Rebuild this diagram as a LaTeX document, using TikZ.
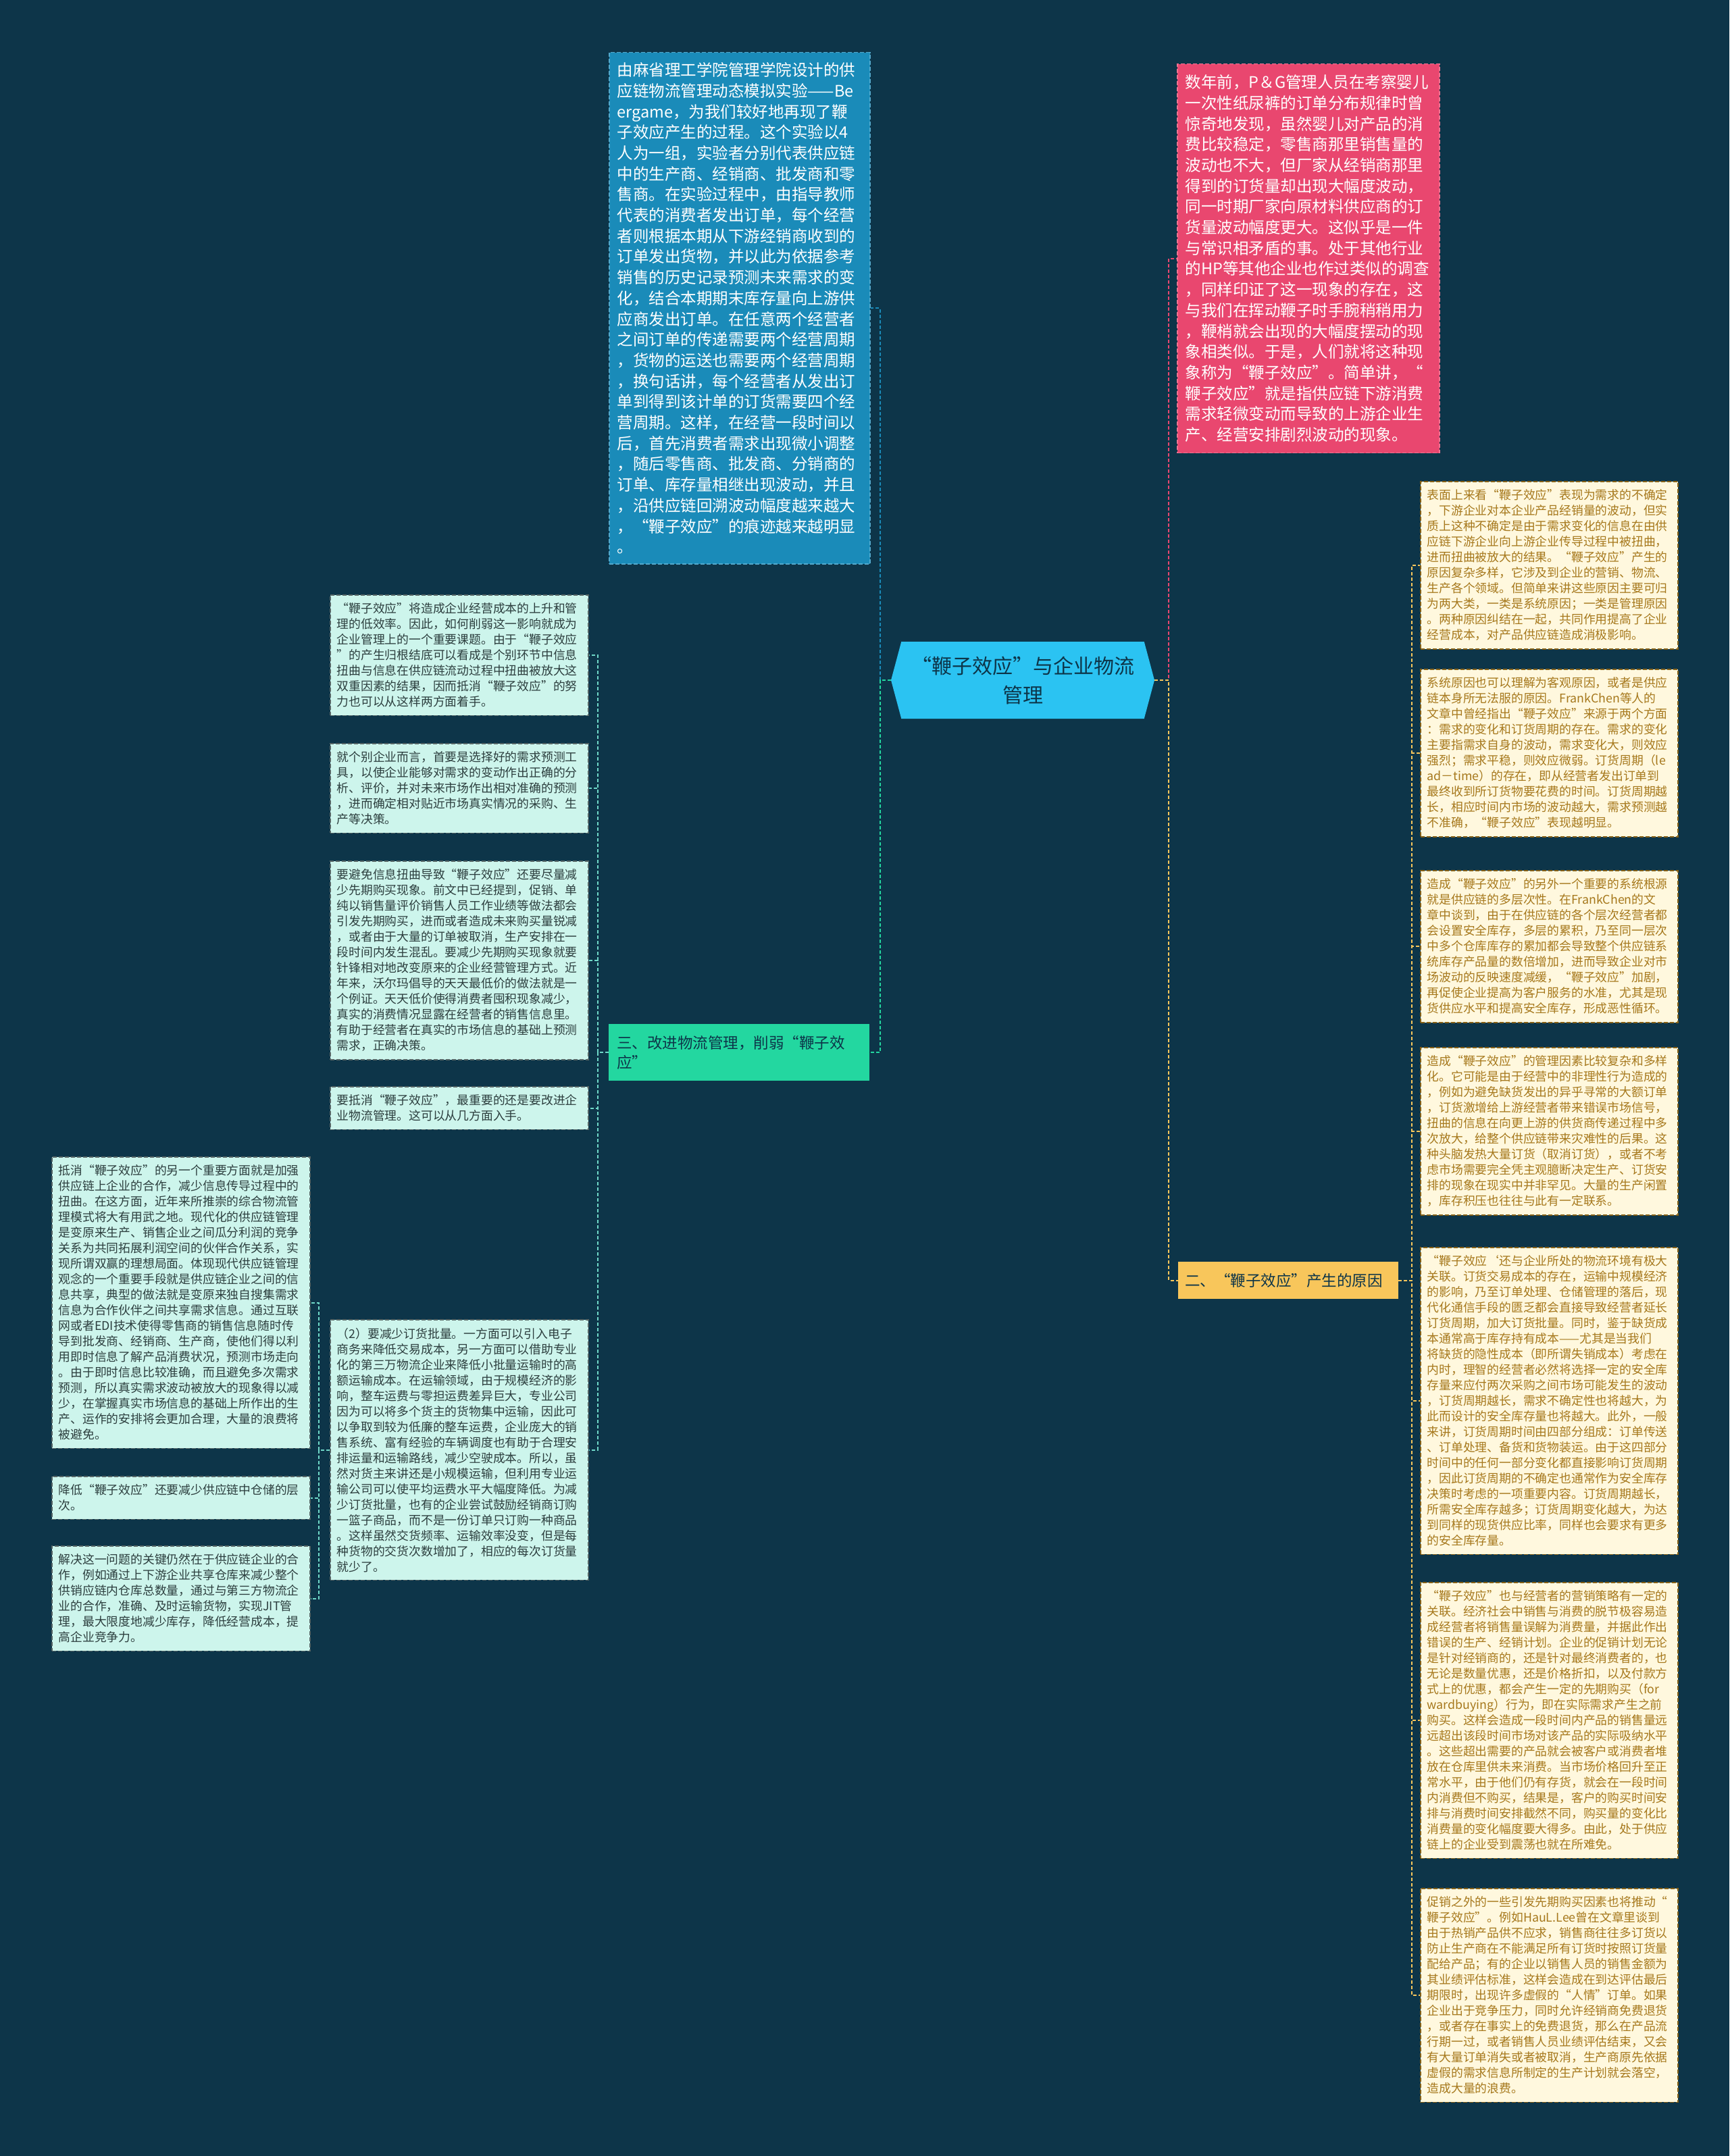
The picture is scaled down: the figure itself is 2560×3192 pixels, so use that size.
\documentclass[tikz,border=0pt]{standalone}
\usepackage{fontspec}
\setmainfont{Noto Sans CJK SC}
\usetikzlibrary{positioning,shapes.symbols}
\definecolor{bg}{HTML}{0D3549}
\definecolor{hubc}{HTML}{2BC3F2}
\definecolor{bluec}{HTML}{1A8BB9}
\definecolor{redc}{HTML}{E9476F}
\definecolor{greenc}{HTML}{23D7A0}
\definecolor{goldc}{HTML}{F8C65B}
\definecolor{cream}{HTML}{FFF8DE}
\definecolor{goldtxt}{HTML}{A6781C}
\definecolor{mint}{HTML}{CDF5EC}
\definecolor{minttxt}{HTML}{2C3E3E}
\definecolor{mintline}{HTML}{6FD8C8}

\begin{document}
\begin{tikzpicture}[
  x=1pt, y=-1pt,
  hub/.style={signal, signal to=east and west, signal pointer angle=150, fill=hubc, text=bg, align=center, font=\fontsize{30}{43}\selectfont, minimum width=390pt, minimum height=114pt, inner sep=0pt},
  topic/.style={fill=#1, text=bg, align=left, font=\fontsize{22.5}{29}\selectfont, inner xsep=12pt, inner ysep=17pt, anchor=north west},
  story/.style={fill=#1, draw=#1!75!white, line width=1.5pt, dash pattern=on 6pt off 3pt, text=white, align=left, font=\fontsize{23.5}{30.7}\selectfont, inner xsep=12pt, inner ysep=15pt, anchor=north west},
  reason/.style={fill=cream, draw=goldtxt!80!black, line width=1.5pt, dash pattern=on 6pt off 3pt, text=goldtxt, align=left, text width=361pt, font=\fontsize{17.8}{23}\selectfont, inner xsep=10pt, inner ysep=12pt, anchor=north west},
  remedy/.style={fill=mint, draw=minttxt!80!white, line width=1.5pt, dash pattern=on 6pt off 3pt, text=minttxt, align=left, text width=362pt, font=\fontsize{17.8}{23}\selectfont, inner xsep=10pt, inner ysep=12pt, anchor=north west},
  link/.style={draw=#1, line width=2pt, dash pattern=on 5pt off 3pt},
]
\fill[bg] (0,0) rectangle (2560,3192);
\useasboundingbox (0,0) rectangle (2560,3192);

\node[hub] (root) at (1514,1007) {“鞭子效应”与企业物流\\管理};

\node[story=bluec, text width=362pt] (lab) at (901,77) {由麻省理工学院管理学院设计的供\\应链物流管理动态模拟实验——Be\\ergame，为我们较好地再现了鞭\\子效应产生的过程。这个实验以4\\人为一组，实验者分别代表供应链\\中的生产商、经销商、批发商和零\\售商。在实验过程中，由指导教师\\代表的消费者发出订单，每个经营\\者则根据本期从下游经销商收到的\\订单发出货物，并以此为依据参考\\销售的历史记录预测未来需求的变\\化，结合本期期末库存量向上游供\\应商发出订单。在任意两个经营者\\之间订单的传递需要两个经营周期\\，货物的运送也需要两个经营周期\\，换句话讲，每个经营者从发出订\\单到得到该计单的订货需要四个经\\营周期。这样，在经营一段时间以\\后，首先消费者需求出现微小调整\\，随后零售商、批发商、分销商的\\订单、库存量相继出现波动，并且\\，沿供应链回溯波动幅度越来越大\\，“鞭子效应”的痕迹越来越明显\\。};

\node[story=redc, text width=364pt, inner ysep=16pt] (pg) at (1742,94) {数年前，P＆G管理人员在考察婴儿\\一次性纸尿裤的订单分布规律时曾\\惊奇地发现，虽然婴儿对产品的消\\费比较稳定，零售商那里销售量的\\波动也不大，但厂家从经销商那里\\得到的订货量却出现大幅度波动，\\同一时期厂家向原材料供应商的订\\货量波动幅度更大。这似乎是一件\\与常识相矛盾的事。处于其他行业\\的HP等其他企业也作过类似的调查\\，同样印证了这一现象的存在，这\\与我们在挥动鞭子时手腕稍稍用力\\，鞭梢就会出现的大幅度摆动的现\\象相类似。于是，人们就将这种现\\象称为“鞭子效应”。简单讲，“\\鞭子效应”就是指供应链下游消费\\需求轻微变动而导致的上游企业生\\产、经营安排剧烈波动的现象。};

\node[topic=greenc, text width=362pt] (improve) at (901,1516) {三、改进物流管理，削弱“鞭子效\\应”};
\node[topic=goldc, text width=306pt, inner xsep=10pt] (cause) at (1744,1868) {二、“鞭子效应”产生的原因};

\node[reason] (r1) at (2102,712) {表面上来看“鞭子效应”表现为需求的不确定\\，下游企业对本企业产品经销量的波动，但实\\质上这种不确定是由于需求变化的信息在由供\\应链下游企业向上游企业传导过程中被扭曲，\\进而扭曲被放大的结果。“鞭子效应”产生的\\原因复杂多样，它涉及到企业的营销、物流、\\生产各个领域。但简单来讲这些原因主要可归\\为两大类，一类是系统原因；一类是管理原因\\。两种原因纠结在一起，共同作用提高了企业\\经营成本，对产品供应链造成消极影响。};
\node[reason] (r2) at (2102,990) {系统原因也可以理解为客观原因，或者是供应\\链本身所无法服的原因。FrankChen等人的\\文章中曾经指出“鞭子效应”来源于两个方面\\：需求的变化和订货周期的存在。需求的变化\\主要指需求自身的波动，需求变化大，则效应\\强烈；需求平稳，则效应微弱。订货周期（le\\ad－time）的存在，即从经营者发出订单到\\最终收到所订货物要花费的时间。订货周期越\\长，相应时间内市场的波动越大，需求预测越\\不准确，“鞭子效应”表现越明显。};
\node[reason] (r3) at (2102,1288) {造成“鞭子效应”的另外一个重要的系统根源\\就是供应链的多层次性。在FrankChen的文\\章中谈到，由于在供应链的各个层次经营者都\\会设置安全库存，多层的累积，乃至同一层次\\中多个仓库库存的累加都会导致整个供应链系\\统库存产品量的数倍增加，进而导致企业对市\\场波动的反映速度减缓，“鞭子效应”加剧，\\再促使企业提高为客户服务的水准，尤其是现\\货供应水平和提高安全库存，形成恶性循环。};
\node[reason] (r4) at (2102,1550) {造成“鞭子效应”的管理因素比较复杂和多样\\化。它可能是由于经营中的非理性行为造成的\\，例如为避免缺货发出的异乎寻常的大额订单\\，订货激增给上游经营者带来错误市场信号，\\扭曲的信息在向更上游的供货商传递过程中多\\次放大，给整个供应链带来灾难性的后果。这\\种头脑发热大量订货（取消订货），或者不考\\虑市场需要完全凭主观臆断决定生产、订货安\\排的现象在现实中并非罕见。大量的生产闲置\\，库存积压也往往与此有一定联系。};
\node[reason] (r5) at (2102,1846) {“鞭子效应‘还与企业所处的物流环境有极大\\关联。订货交易成本的存在，运输中规模经济\\的影响，乃至订单处理、仓储管理的落后，现\\代化通信手段的匮乏都会直接导致经营者延长\\订货周期，加大订货批量。同时，鉴于缺货成\\本通常高于库存持有成本——尤其是当我们\\将缺货的隐性成本（即所谓失销成本）考虑在\\内时，理智的经营者必然将选择一定的安全库\\存量来应付两次采购之间市场可能发生的波动\\，订货周期越长，需求不确定性也将越大，为\\此而设计的安全库存量也将越大。此外，一般\\来讲，订货周期时间由四部分组成：订单传送\\、订单处理、备货和货物装运。由于这四部分\\时间中的任何一部分变化都直接影响订货周期\\，因此订货周期的不确定也通常作为安全库存\\决策时考虑的一项重要内容。订货周期越长，\\所需安全库存越多；订货周期变化越大，为达\\到同样的现货供应比率，同样也会要求有更多\\的安全库存量。};
\node[reason] (r6) at (2102,2342) {“鞭子效应”也与经营者的营销策略有一定的\\关联。经济社会中销售与消费的脱节极容易造\\成经营者将销售量误解为消费量，并据此作出\\错误的生产、经销计划。企业的促销计划无论\\是针对经销商的，还是针对最终消费者的，也\\无论是数量优惠，还是价格折扣，以及付款方\\式上的优惠，都会产生一定的先期购买（for\\wardbuying）行为，即在实际需求产生之前\\购买。这样会造成一段时间内产品的销售量远\\远超出该段时间市场对该产品的实际吸纳水平\\。这些超出需要的产品就会被客户或消费者堆\\放在仓库里供未来消费。当市场价格回升至正\\常水平，由于他们仍有存货，就会在一段时间\\内消费但不购买，结果是，客户的购买时间安\\排与消费时间安排截然不同，购买量的变化比\\消费量的变化幅度要大得多。由此，处于供应\\链上的企业受到震荡也就在所难免。};
\node[reason] (r7) at (2102,2795) {促销之外的一些引发先期购买因素也将推动“\\鞭子效应”。例如HauL.Lee曾在文章里谈到\\由于热销产品供不应求，销售商往往多订货以\\防止生产商在不能满足所有订货时按照订货量\\配给产品；有的企业以销售人员的销售金额为\\其业绩评估标准，这样会造成在到达评估最后\\期限时，出现许多虚假的“人情”订单。如果\\企业出于竞争压力，同时允许经销商免费退货\\，或者存在事实上的免费退货，那么在产品流\\行期一过，或者销售人员业绩评估结束，又会\\有大量订单消失或者被取消，生产商原先依据\\虚假的需求信息所制定的生产计划就会落空，\\造成大量的浪费。};

\node[remedy] (m1) at (488,880) {“鞭子效应”将造成企业经营成本的上升和管\\理的低效率。因此，如何削弱这一影响就成为\\企业管理上的一个重要课题。由于“鞭子效应\\”的产生归根结底可以看成是个别环节中信息\\扭曲与信息在供应链流动过程中扭曲被放大这\\双重因素的结果，因而抵消“鞭子效应”的努\\力也可以从这样两方面着手。};
\node[remedy] (m2) at (488,1100) {就个别企业而言，首要是选择好的需求预测工\\具，以使企业能够对需求的变动作出正确的分\\析、评价，并对未来市场作出相对准确的预测\\，进而确定相对贴近市场真实情况的采购、生\\产等决策。};
\node[remedy] (m3) at (488,1274) {要避免信息扭曲导致“鞭子效应”还要尽量减\\少先期购买现象。前文中已经提到，促销、单\\纯以销售量评价销售人员工作业绩等做法都会\\引发先期购买，进而或者造成未来购买量锐减\\，或者由于大量的订单被取消，生产安排在一\\段时间内发生混乱。要减少先期购买现象就要\\针锋相对地改变原来的企业经营管理方式。近\\年来，沃尔玛倡导的天天最低价的做法就是一\\个例证。天天低价使得消费者囤积现象减少，\\真实的消费情况显露在经营者的销售信息里。\\有助于经营者在真实的市场信息的基础上预测\\需求，正确决策。};
\node[remedy] (m4) at (488,1608) {要抵消“鞭子效应”，最重要的还是要改进企\\业物流管理。这可以从几方面入手。};
\node[remedy] (m5) at (488,1953) {（2）要减少订货批量。一方面可以引入电子\\商务来降低交易成本，另一方面可以借助专业\\化的第三万物流企业来降低小批量运输时的高\\额运输成本。在运输领域，由于规模经济的影\\响，整车运费与零担运费差异巨大，专业公司\\因为可以将多个货主的货物集中运输，因此可\\以争取到较为低廉的整车运费，企业庞大的销\\售系统、富有经验的车辆调度也有助于合理安\\排运量和运输路线，减少空驶成本。所以，虽\\然对货主来讲还是小规模运输，但利用专业运\\输公司可以使平均运费水平大幅度降低。为减\\少订货批量，也有的企业尝试鼓励经销商订购\\一篮子商品，而不是一份订单只订购一种商品\\。这样虽然交货频率、运输效率没变，但是每\\种货物的交货次数增加了，相应的每次订货量\\就少了。};

\node[remedy] (f1) at (76,1712) {抵消“鞭子效应”的另一个重要方面就是加强\\供应链上企业的合作，减少信息传导过程中的\\扭曲。在这方面，近年来所推崇的综合物流管\\理模式将大有用武之地。现代化的供应链管理\\是变原来生产、销售企业之间瓜分利润的竞争\\关系为共同拓展利润空间的伙伴合作关系，实\\现所谓双赢的理想局面。体现现代供应链管理\\观念的一个重要手段就是供应链企业之间的信\\息共享，典型的做法就是变原来独自搜集需求\\信息为合作伙伴之间共享需求信息。通过互联\\网或者EDI技术使得零售商的销售信息随时传\\导到批发商、经销商、生产商，使他们得以利\\用即时信息了解产品消费状况，预测市场走向\\。由于即时信息比较准确，而且避免多次需求\\预测，所以真实需求波动被放大的现象得以减\\少，在掌握真实市场信息的基础上所作出的生\\产、运作的安排将会更加合理，大量的浪费将\\被避免。};
\node[remedy] (f2) at (76,2185) {降低“鞭子效应”还要减少供应链中仓储的层\\次。};
\node[remedy] (f3) at (76,2288) {解决这一问题的关键仍然在于供应链企业的合\\作，例如通过上下游企业共享仓库来减少整个\\供销应链内仓库总数量，通过与第三方物流企\\业的合作，准确、及时运输货物，实现JIT管\\理，最大限度地减少库存，降低经营成本，提\\高企业竞争力。};

\draw[link=redc] (root.east) -- ++(21,0) |- (pg.west);
\draw[link=goldc] (root.east) -- ++(21,0) |- (cause.west);
\draw[link=bluec] (root.west) -- ++(-16,0) |- (lab.east);
\draw[link=greenc] (root.west) -- ++(-16,0) |- (improve.east);
\foreach \n in {r1,r2,r3,r4,r5,r6,r7}
  \draw[link=goldc] (cause.east) -- ++(20,0) |- (\n.west);
\foreach \n in {m1,m2,m3,m4,m5}
  \draw[link=mintline] (improve.west) -- ++(-16,0) |- (\n.east);
\foreach \n in {f1,f2,f3}
  \draw[link=mintline] (m5.west) -- ++(-16,0) |- (\n.east);

\end{tikzpicture}
\end{document}
